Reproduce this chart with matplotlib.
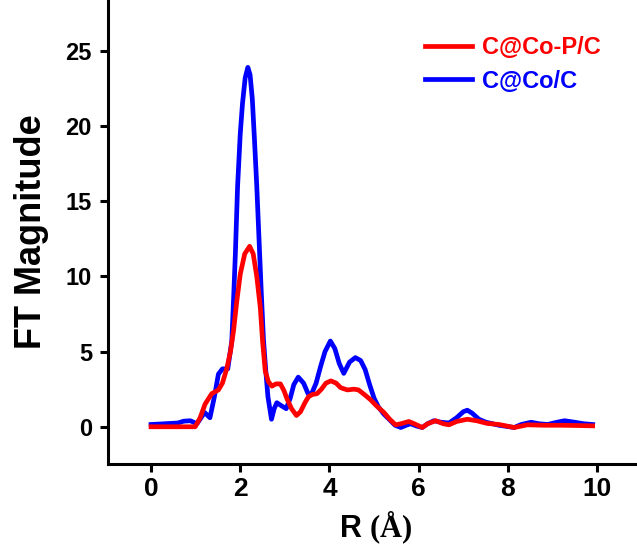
import matplotlib
matplotlib.use("Agg")
import matplotlib.pyplot as plt

plt.rcParams['font.family'] = ['Liberation Sans', 'DejaVu Sans']
plt.rcParams['font.weight'] = 'bold'
plt.rcParams['mathtext.fontset'] = 'custom'
plt.rcParams['mathtext.rm'] = 'Liberation Serif'

# FT-EXAFS magnitude vs. radial distance
r_coc = [0.0, 0.3, 0.6, 0.73, 0.88, 1.03, 1.2, 1.32, 1.42, 1.51, 1.6, 1.72,
         1.81, 1.85, 1.89, 1.94, 2.0, 2.05, 2.11, 2.17, 2.22, 2.27, 2.32,
         2.37, 2.42, 2.47, 2.52, 2.57, 2.62, 2.7, 2.76, 2.82, 2.92, 3.03,
         3.12, 3.2, 3.3, 3.42, 3.52, 3.6, 3.7, 3.8, 3.9, 4.02, 4.12, 4.22,
         4.32, 4.45, 4.58, 4.7, 4.8, 4.9, 5.0, 5.1, 5.22, 5.37, 5.47, 5.6,
         5.72, 5.82, 5.95, 6.08, 6.2, 6.34, 6.5, 6.68, 6.85, 7.0, 7.09, 7.2,
         7.35, 7.51, 7.8, 8.14, 8.3, 8.52, 8.7, 8.89, 9.1, 9.27, 9.5, 9.7,
         9.9]
ft_coc = [0.15, 0.2, 0.25, 0.37, 0.4, 0.2, 0.95, 0.6, 2.0, 3.5, 3.85, 3.85,
          5.7, 8.5, 11.5, 16.0, 19.5, 21.5, 23.2, 23.9, 23.4, 21.8, 19.0,
          16.0, 12.5, 9.0, 5.8, 3.8, 2.0, 0.5, 1.2, 1.6, 1.4, 1.2,
          1.9, 2.8, 3.3, 2.9, 2.2, 2.2, 2.9, 4.0, 5.0, 5.7, 5.2, 4.2,
          3.55, 4.3, 4.6, 4.4, 3.8, 2.8, 1.9, 1.3, 0.84, 0.4, 0.1, -0.05,
          0.1, 0.2, 0.05, -0.05, 0.2, 0.4, 0.3, 0.25, 0.6, 1.0, 1.1, 0.9,
          0.5, 0.3, 0.1, -0.05, 0.15, 0.3, 0.2, 0.15, 0.3, 0.4, 0.3, 0.2,
          0.15]

r_cop = [0.0, 0.5, 0.99, 1.1, 1.21, 1.36, 1.51, 1.6, 1.7, 1.78, 1.85, 1.92,
         2.0, 2.1, 2.21, 2.29, 2.37, 2.45, 2.5, 2.56, 2.63, 2.71, 2.8, 2.9,
         2.98, 3.05, 3.15, 3.26, 3.35, 3.45, 3.53, 3.62, 3.72, 3.82, 3.92,
         4.03, 4.15, 4.25, 4.4, 4.55, 4.65, 4.8, 4.92, 5.05, 5.22, 5.35,
         5.48, 5.6, 5.78, 5.9, 6.08, 6.2, 6.38, 6.55, 6.68, 6.85, 7.09, 7.3,
         7.54, 7.8, 8.14, 8.44, 8.8, 9.2, 9.6, 9.9]
ft_cop = [0.0, 0.0, 0.0, 0.6, 1.5, 2.2, 2.45, 2.9, 3.9, 5.0, 6.4, 8.3,
          10.15, 11.5, 12.0, 11.5, 10.0, 7.9, 5.7, 3.7, 3.0, 2.7, 2.85, 2.85,
          2.4, 1.84, 1.2, 0.75, 1.0, 1.6, 2.0, 2.15, 2.2, 2.5, 2.9,
          3.05, 2.9, 2.6, 2.45, 2.5, 2.45, 2.1, 1.8, 1.4, 0.95, 0.5,
          0.13, 0.2, 0.35, 0.2, -0.05, 0.2, 0.4, 0.2, 0.13, 0.35, 0.5, 0.4,
          0.22, 0.15, -0.05, 0.13, 0.1, 0.1, 0.08, 0.06]

fig = plt.figure(figsize=(6.37, 5.5), dpi=100)
ax = fig.add_axes([0.1695, 0.156, 0.84, 0.844])

ax.plot(r_coc, ft_coc, color='#0000ff', lw=3.4, label='C@Co/C', zorder=2)
ax.plot(r_cop, ft_cop, color='#ff0000', lw=3.4, label='C@Co-P/C', zorder=3)

ax.set_xlim(-0.966, 11.03)
ax.set_ylim(-2.49, 28.38)
ax.set_xticks([0, 2, 4, 6, 8, 10])
ax.set_yticks([0, 5, 10, 15, 20, 25])

for side in ['top', 'right']:
    ax.spines[side].set_visible(False)
for side in ['left', 'bottom']:
    ax.spines[side].set_linewidth(2.2)

ax.tick_params(direction='out', length=5.5, width=2.2)
ax.tick_params(axis='y', labelsize=17, pad=6)
ax.tick_params(axis='x', labelsize=19, pad=4)

ax.set_ylabel('FT Magnitude', fontsize=26, fontweight='bold', labelpad=12)
ax.set_xlabel(r'R $\mathrm{(\AA)}$', fontsize=22, fontweight='bold', labelpad=6)

handles, labels = ax.get_legend_handles_labels()
leg = ax.legend(handles[::-1], labels[::-1], loc='upper left',
                bbox_to_anchor=(425 / 637, 1 - 36 / 550),
                bbox_transform=fig.transFigure, frameon=False,
                prop={'weight': 'bold', 'size': 17}, handlelength=2.0,
                handletextpad=0.4, labelspacing=0.45, borderpad=0,
                borderaxespad=0, labelcolor='linecolor')

fig.savefig('out.png', dpi=100)
